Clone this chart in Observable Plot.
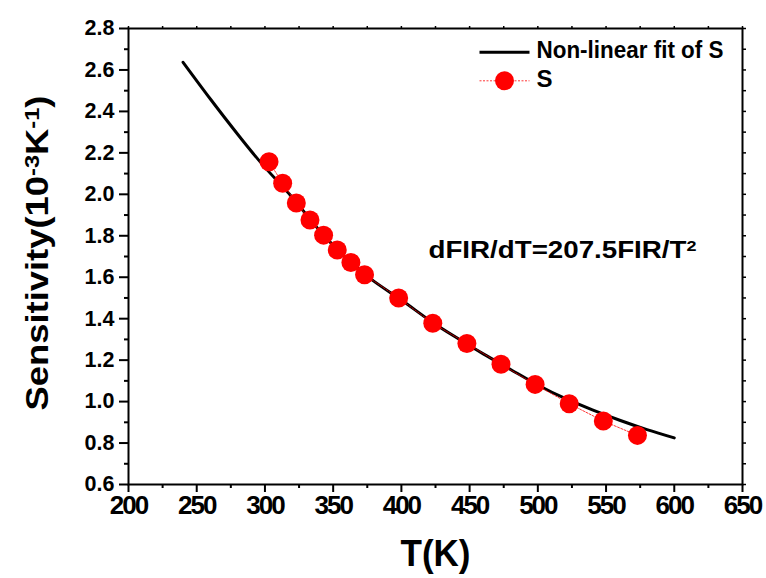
<!DOCTYPE html>
<html>
<head>
<meta charset="utf-8">
<script src="https://cdn.jsdelivr.net/npm/d3@7"></script>
<script src="https://cdn.jsdelivr.net/npm/@observablehq/plot@0.6"></script>
<style>
  body { margin: 0; background: #fff; }
  #chart svg { display: block; }
</style>
</head>
<body>
<div id="chart"></div>
<script>
// ---- data ----
const temps = [303, 313, 323, 333, 343, 353, 363, 373, 398, 423, 448, 473, 498, 523, 548, 573];
const sensitivity = [2.157, 2.053, 1.958, 1.876, 1.803, 1.731, 1.671, 1.612, 1.500, 1.378, 1.280, 1.180, 1.083, 0.990, 0.906, 0.837];

const fitTemps = [240, 260, 280, 300, 320, 340, 360, 380, 400, 420, 440, 460, 480, 500, 520, 540, 560, 580, 600];
const fitValues = [2.637, 2.46, 2.29, 2.13, 1.985, 1.825, 1.69, 1.58, 1.49, 1.395, 1.31, 1.23, 1.155, 1.08, 1.015, 0.96, 0.91, 0.865, 0.825];

const xTicks = [200, 250, 300, 350, 400, 450, 500, 550, 600, 650];
const xMinorTicks = [225, 275, 325, 375, 425, 475, 525, 575, 625];
const yTicks = [0.6, 0.8, 1.0, 1.2, 1.4, 1.6, 1.8, 2.0, 2.2, 2.4, 2.6, 2.8];
const yMinorTicks = [0.7, 0.9, 1.1, 1.3, 1.5, 1.7, 1.9, 2.1, 2.3, 2.5, 2.7];

const legendLabels = ["Non-linear fit of S", "S"];
const xLabel = "T(K)";
const yLabelParts = [["Sensitivity(10", false], ["-3", true], ["K", false], ["-1", true], [")", false]];
const annotationParts = [["dFIR/dT=207.5FIR/T", false], ["2", true]];

// ---- tables built from the arrays ----
const points = temps.map((t, i) => ({T: t, S: sensitivity[i]}));
const fit = fitTemps.map((t, i) => ({T: t, S: fitValues[i]}));

const FONT = "'Liberation Sans', Arial, Helvetica, sans-serif";
const lineSymbol = {draw(ctx) { ctx.moveTo(-25, 0); ctx.lineTo(25, 0); }};
const blank = () => "";

const yLabel = yLabelParts.map(d => d[0]).join("");
const annotation = annotationParts.map(d => d[0]).join("");

const chart = Plot.plot({
  width: 766,
  height: 578,
  marginLeft: 128,
  marginRight: 24,
  marginTop: 28,
  marginBottom: 94,
  x: {domain: [200, 650]},
  y: {domain: [0.6, 2.8]},
  style: {fontFamily: FONT, background: "#fff", color: "#000"},
  marks: [
    // axes
    Plot.axisX(xTicks, {anchor: "bottom", tickSize: 8, tickPadding: 3, fontSize: 26, fontWeight: "bold", strokeWidth: 2, label: null}),
    Plot.axisX(xMinorTicks, {anchor: "bottom", tickSize: 4, strokeWidth: 2, tickFormat: blank, label: null}),
    Plot.axisX([...xTicks, ...xMinorTicks], {anchor: "top", tickSize: 3, strokeWidth: 1.5, tickFormat: blank, label: null}),
    Plot.axisY(yTicks, {anchor: "left", tickSize: 9, tickPadding: 5, fontSize: 21.5, fontWeight: "bold", strokeWidth: 2, tickFormat: d => d.toFixed(1), label: null}),
    Plot.axisY(yMinorTicks, {anchor: "left", tickSize: 4, strokeWidth: 2, tickFormat: blank, label: null}),
    Plot.axisY([...yTicks, ...yMinorTicks], {anchor: "right", tickSize: 3, strokeWidth: 1.5, tickFormat: blank, label: null}),
    Plot.frame({stroke: "#000", strokeWidth: 2}),

    // data
    Plot.line(fit, {x: "T", y: "S", stroke: "#000", strokeWidth: 3, curve: "natural"}),
    Plot.line(points, {x: "T", y: "S", stroke: "#ff0000", strokeWidth: 0.8, strokeDasharray: "2,1.5"}),
    Plot.dot(points, {x: "T", y: "S", r: 9.5, fill: "#ff0000", stroke: "none"}),

    // legend
    Plot.dot([legendLabels[0]], {frameAnchor: "top-right", dx: -238, dy: 23.7, r: 5, symbol: lineSymbol, fill: "none", stroke: "#000", strokeWidth: 3}),
    Plot.dot([legendLabels[1]], {frameAnchor: "top-right", dx: -238, dy: 52.3, r: 5, symbol: lineSymbol, fill: "none", stroke: "#ff0000", strokeWidth: 0.8, strokeDasharray: "2,1.5"}),
    Plot.dot([legendLabels[1]], {frameAnchor: "top-right", dx: -238, dy: 52.3, r: 9.5, fill: "#ff0000", stroke: "none"}),
    Plot.text([legendLabels[0]], {frameAnchor: "top-right", dx: -206, dy: 22, textAnchor: "start", lineAnchor: "middle", fontSize: 24, fontWeight: "bold", fill: "#000"}),
    Plot.text([legendLabels[1]], {frameAnchor: "top-right", dx: -206, dy: 51, textAnchor: "start", lineAnchor: "middle", fontSize: 24, fontWeight: "bold", fill: "#000"}),

    // annotation
    Plot.text([annotation], {frameAnchor: "top-left", dx: 300, dy: 222, textAnchor: "start", lineAnchor: "middle", fontSize: 23, fontWeight: "bold", fill: "#000"}),

    // axis titles
    Plot.text([xLabel], {frameAnchor: "bottom", dy: 70, lineAnchor: "middle", fontSize: 36, fontWeight: "bold", fill: "#000"}),
    Plot.text([yLabel], {frameAnchor: "left", dx: -90, dy: 154, rotate: -90, textAnchor: "start", lineAnchor: "middle", fontSize: 31, fontWeight: "bold", fill: "#000"})
  ]
});

// superscripts and fine text fitting
function rebuild(textEl, parts) {
  textEl.textContent = "";
  for (const [s, sup] of parts) {
    const t = document.createElementNS("http://www.w3.org/2000/svg", "tspan");
    t.textContent = s;
    if (sup) {
      t.setAttribute("font-size", "65%");
      t.setAttribute("baseline-shift", "45%");
    }
    textEl.appendChild(t);
  }
}
d3.select(chart).selectAll("text").each(function () {
  const s = this.textContent;
  if (s === yLabel) {
    rebuild(this, yLabelParts);
    this.setAttribute("textLength", 315);
    this.setAttribute("lengthAdjust", "spacingAndGlyphs");
  } else if (s === annotation) {
    rebuild(this, annotationParts);
    this.setAttribute("textLength", 268);
    this.setAttribute("lengthAdjust", "spacingAndGlyphs");
  } else if (s === xLabel) {
    this.setAttribute("textLength", 70);
    this.setAttribute("lengthAdjust", "spacingAndGlyphs");
  } else if (s === legendLabels[0]) {
    this.setAttribute("textLength", 187);
    this.setAttribute("lengthAdjust", "spacingAndGlyphs");
  }
});
d3.select(chart).selectAll('g[aria-label="x-axis tick label"] text').style("letter-spacing", "-2px");

document.getElementById("chart").appendChild(chart);
</script>
</body>
</html>
